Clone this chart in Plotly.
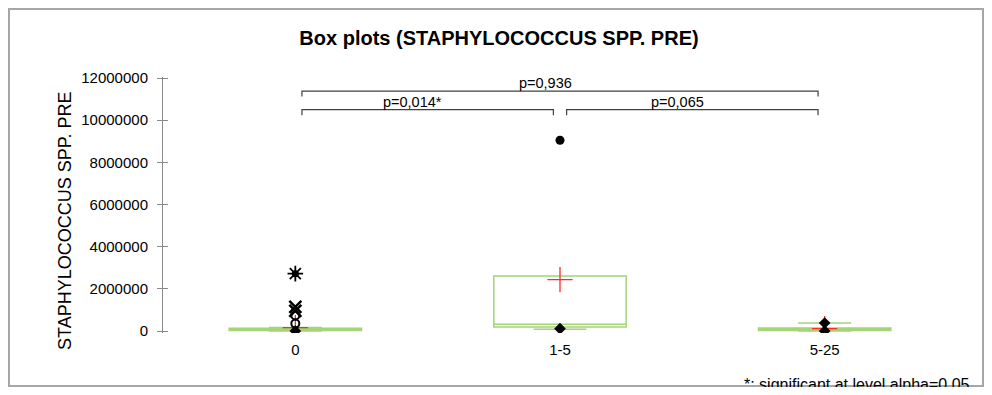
#%% Box plots of STAPHYLOCOCCUS SPP. PRE by group
import plotly.graph_objects as go

# groups on the x axis
categories = ["0", "1-5", "5-25"]

# box statistics per group
q1 = [20000, 190000, 20000]
median = [50000, 320000, 60000]
q3 = [130000, 2610000, 140000]
lower_whisker = [0, 80000, 0]
upper_whisker = [160000, 470000, 380000]
means = [160000, 2440000, 110000]

# single points drawn on top (group index, value)
min_max_groups = [0, 1, 2, 2]
min_max_values = [0, 110000, 0, 380000]
far_groups = [1]
far_values = [9050000]
star_groups = [0]
star_values = [2720000]
x_groups = [0, 0]
x_values = [1140000, 950000]
ring_groups = [0, 0]
ring_values = [740000, 350000]

# pairwise comparisons: (group a, group b, label)
comparisons = [
    (0, 1, "p=0,014*"),
    (1, 2, "p=0,065"),
    (0, 2, "p=0,936"),
]
y_ticks = [0, 2000000, 4000000, 6000000, 8000000, 10000000, 12000000]

# the page adds an 8 px margin round the figure
OFF = 8
W, H = 976, 379
L, R, T, B = 155, 27, 69, 54
font = "Arial, Liberation Sans"
green = "#a3d476"
idx = list(range(len(categories)))


def px_x(p):
    return (p - OFF - L) / (W - L - R)


def px_y(p):
    return 1 - (p - OFF - T) / (H - T - B)


fig = go.Figure()

fig.add_trace(go.Box(
    x=idx, q1=q1, median=median, q3=q3,
    lowerfence=lower_whisker, upperfence=upper_whisker,
    width=0.5, whiskerwidth=0.4, boxpoints=False,
    line=dict(color=green, width=1.5), fillcolor="rgba(0,0,0,0)",
    hoverinfo="skip", showlegend=False,
))

fig.add_trace(go.Scatter(
    x=idx, y=means, mode="markers", showlegend=False,
    marker=dict(symbol="cross-thin-open", size=18, color="#ff2a2a",
                line=dict(color="#ff2a2a", width=1.3)),
))
fig.add_trace(go.Scatter(
    x=min_max_groups, y=min_max_values, mode="markers", showlegend=False,
    marker=dict(symbol="diamond", size=9, color="black"),
))
fig.add_trace(go.Scatter(
    x=far_groups, y=far_values, mode="markers", showlegend=False,
    marker=dict(symbol="circle", size=9, color="black"),
))
fig.add_trace(go.Scatter(
    x=star_groups, y=star_values, mode="markers", showlegend=False,
    marker=dict(symbol="asterisk-open", size=13, color="black",
                line=dict(color="black", width=1.8)),
))
fig.add_trace(go.Scatter(
    x=star_groups, y=star_values, mode="markers", showlegend=False,
    marker=dict(symbol="circle", size=7, color="black"),
))
fig.add_trace(go.Scatter(
    x=x_groups, y=x_values, mode="markers", showlegend=False,
    marker=dict(symbol="x-thin-open", size=12, color="black",
                line=dict(color="black", width=2.5)),
))
fig.add_trace(go.Scatter(
    x=ring_groups, y=ring_values, mode="markers", showlegend=False,
    marker=dict(symbol="circle-open", size=8, color="black",
                line=dict(color="black", width=2)),
))

# comparison brackets
inset = 0.025
levels = {1: 10500000, 2: 11380000}
drop = 260000
for a, b, label in comparisons:
    lvl = levels[b - a]
    fig.add_trace(go.Scatter(
        x=[a + inset, a + inset, b - inset, b - inset],
        y=[lvl - drop, lvl, lvl, lvl - drop],
        mode="lines", line=dict(color="#404040", width=1.2),
        showlegend=False, hoverinfo="skip",
    ))
    fig.add_annotation(
        x=(a + b) / 2, y=lvl, text=label, showarrow=False,
        xshift=-15, yanchor="bottom", yshift=-2,
        font=dict(family=font, size=14.5, color="black"),
    )

fig.update_layout(
    width=W, height=H,
    margin=dict(l=L, r=R, t=T, b=B),
    paper_bgcolor="white", plot_bgcolor="white",
    title=dict(text="<b>Box plots (STAPHYLOCOCCUS SPP. PRE)</b>", x=(499 - OFF) / W, xanchor="center",
               y=1 - (38 - OFF) / H, yanchor="middle",
               font=dict(family=font, size=20, color="black")),
    font=dict(family=font, size=14.5, color="black"),
    xaxis=dict(range=[-0.5, 2.5], tickvals=idx, ticktext=categories,
               tickfont=dict(family=font, size=15),
               showline=False, showgrid=False, zeroline=False, ticks="",
               ticklabelstandoff=6),
    yaxis=dict(range=[-95000, 12050000], tickvals=y_ticks, tickformat="d",
               tickfont=dict(family=font, size=15),
               showline=True, linecolor="#8a8a8a", linewidth=1,
               ticks="outside", ticklen=5, tickcolor="#8a8a8a",
               showgrid=False, zeroline=False, ticklabelstandoff=6),
    yaxis2=dict(range=[-95000, 12050000], tickvals=y_ticks, overlaying="y",
                showticklabels=False, ticks="inside", ticklen=5, tickcolor="#8a8a8a",
                showgrid=False, zeroline=False, showline=False),
)

fig.add_annotation(
    xref="paper", yref="paper", x=px_x(65), y=px_y(221),
    xanchor="center", yanchor="middle",
    text="STAPHYLOCOCCUS SPP. PRE", textangle=-90, showarrow=False,
    font=dict(family=font, size=18, color="black"),
)
fig.add_annotation(
    xref="paper", yref="paper", x=px_x(972), y=px_y(384), xanchor="right", yanchor="middle",
    text="*: significant at level alpha=0.05", showarrow=False,
    font=dict(family=font, size=16, color="black"),
)
fig.add_shape(
    type="rect", xref="paper", yref="paper",
    x0=px_x(OFF + 1), x1=px_x(OFF + W - 1), y0=px_y(OFF + H - 1), y1=px_y(OFF + 1),
    line=dict(color="#a6a6a6", width=2), layer="above",
)
# keep the second y axis drawn
fig.add_trace(go.Scatter(x=[], y=[], yaxis="y2", showlegend=False))

fig.write_html("out.html")
